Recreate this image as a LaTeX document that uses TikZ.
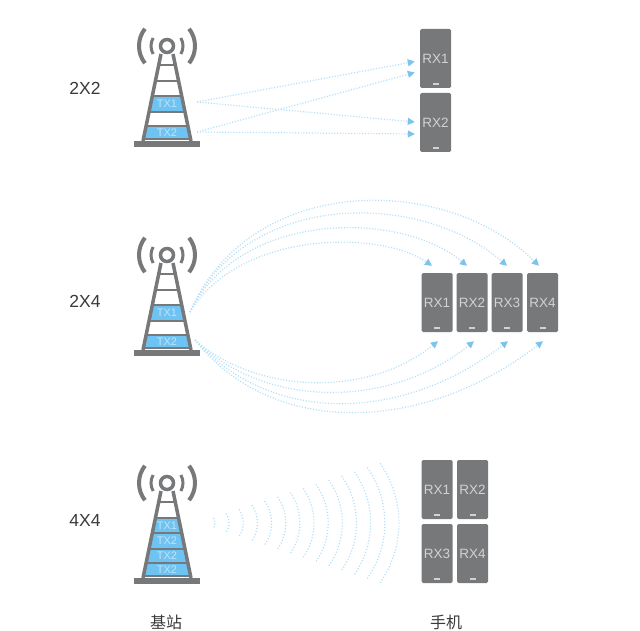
\documentclass[tikz,border=0pt]{standalone}
\usepackage{fontspec}
\usepackage{xcolor}
\usetikzlibrary{arrows.meta}
\setsansfont{Liberation Sans}
\newfontfamily\cjk{Noto Sans CJK SC}
\definecolor{Canvas}{HTML}{FFFFFF}
\definecolor{Ink}{HTML}{3A3A3A}
\definecolor{Steel}{HTML}{77787A}
\definecolor{Sky}{HTML}{6FC3F2}
\definecolor{Beam}{HTML}{B4E0F7}
\definecolor{TipBlue}{HTML}{7CC4EC}
\definecolor{TxText}{HTML}{BFE3F8}
\definecolor{RxText}{HTML}{D2D2D2}
\tikzset{
  mast/.style={draw=Steel,line width=3.5pt},
  beamline/.style={draw=Beam,line width=1.2pt,dash pattern=on 1.1pt off 1.7pt,
    -{Triangle[length=7pt,width=7pt,color=TipBlue]}},
  wavearc/.style={draw=Beam,line width=1.2pt,dash pattern=on 1.1pt off 1.9pt},
  phone/.style={rectangle,fill=Steel,rounded corners=1.5pt,minimum width=31pt,minimum height=59pt,
    inner sep=0pt,text=RxText,font=\sffamily\fontsize{13.5}{15}\selectfont},
  ratio/.style={font=\sffamily\fontsize{17.5}{19}\selectfont},
  caption/.style={font=\cjk\fontsize{16}{18}\selectfont},
  tower/.pic={
    \draw[mast] (0,0) circle (6.5);
    \draw[mast,line width=3pt] (150:16) arc (150:210:16);
    \draw[mast,line width=3pt] (30:16) arc (30:-30:16);
    \draw[mast,line width=4pt] (142:28) arc (142:218:28);
    \draw[mast,line width=4pt] (38:28) arc (38:-38:28);
    \draw[mast] (-6,8)--(-24,95) (6,8)--(24,95);
    \foreach \y in {19,35,50,66,80,93} \draw[mast,line width=2.5pt] ({-6-(\y-8)*0.207},\y)--({6+(\y-8)*0.207},\y);
    \fill[Steel] (-33,95) rectangle (33,101);
  }
}
\newcommand{\txband}[4]{%
  \fill[Sky] ({-6-(#1-8)*0.207},#1)--({6+(#1-8)*0.207},#1)--({6+(#2-8)*0.207},#2)--({-6-(#2-8)*0.207},#2)--cycle;
  \node[text=TxText,font=\sffamily\fontsize{11}{12}\selectfont] (#4) at (0,{(#1+#2)/2}) {#3};}

\begin{document}
\begin{tikzpicture}[x=1pt,y=-1pt,every node/.style={text=Ink}]
\useasboundingbox[fill=Canvas] (0,0) rectangle (640,631);
% first row
\node[ratio] (ratioa) at (85,88) {2X2};
\begin{scope}[shift={(167,46)}]
\txband{50}{66}{TX1}{txa1}\txband{80}{93}{TX2}{txa2}
\pic {tower};
\end{scope}
\node[phone] (rxa1) at (435.5,58.5) {RX1};
\node[phone] (rxa2) at (435.5,122.5) {RX2};
\coordinate (fromaa) at (197,102);
\coordinate (fromab) at (197,132);
\draw[beamline] (fromaa)--([shift={(-5,3)}]rxa1.west);
\draw[beamline] (fromab)--([shift={(-5,14)}]rxa1.west);
\draw[beamline] (fromaa)--([shift={(-5,-0.5)}]rxa2.west);
\draw[beamline] (fromab)--([shift={(-5,11.5)}]rxa2.west);
% second row
\node[ratio] (ratiob) at (85,301) {2X4};
\begin{scope}[shift={(167,255)}]
\txband{50}{66}{TX1}{txb1}\txband{80}{93}{TX2}{txb2}
\pic {tower};
\end{scope}
\node[phone] (rxb1) at (437,302.5) {RX1};
\node[phone] (rxb2) at (472,302.5) {RX2};
\node[phone] (rxb3) at (507,302.5) {RX3};
\node[phone] (rxb4) at (542.5,302.5) {RX4};
\coordinate (frombt) at (190,312);
\coordinate (frombb) at (195,340);
\draw[beamline] (frombt) .. controls (240,230) and (380,230) .. ([shift={(-5,-7)}]rxb1.north);
\draw[beamline] (frombt) .. controls (240,210) and (400,210) .. ([shift={(-5,-7)}]rxb2.north);
\draw[beamline] (frombt) .. controls (245,190) and (420,190) .. ([shift={(0,-7)}]rxb3.north);
\draw[beamline] (frombt) .. controls (250,173) and (445,173) .. ([shift={(-3.5,-7)}]rxb4.north);
\draw[beamline] (frombb) .. controls (260,396) and (370,396) .. ([shift={(1,9)}]rxb1.south);
\draw[beamline] (frombb) .. controls (265,409) and (390,409) .. ([shift={(2,9)}]rxb2.south);
\draw[beamline] (frombb) .. controls (270,424) and (400,424) .. ([shift={(1,9)}]rxb3.south);
\draw[beamline] (frombb) .. controls (270,436) and (420,436) .. ([shift={(0.5,9)}]rxb4.south);
% third row
\node[ratio] (ratioc) at (85,520) {4X4};
\begin{scope}[shift={(167,483)}]
\txband{35}{50}{TX1}{txc1}\txband{50}{66}{TX2}{txc2}\txband{66}{80}{TX2}{txc3}\txband{80}{93}{TX2}{txc4}
\pic {tower};
\end{scope}
\foreach \i in {0,...,13}
  \draw[wavearc] ({215+14.15*\i-(9+7.3*\i)},523) ++(-35:{9+7.3*\i}) arc (-35:35:{9+7.3*\i});
\node[phone] (rxc1) at (437,489.5) {RX1};
\node[phone] (rxc2) at (472.5,489.5) {RX2};
\node[phone] (rxc3) at (437,553.5) {RX3};
\node[phone] (rxc4) at (472.5,553.5) {RX4};
% home buttons
\foreach \p in {rxa1,rxa2,rxb1,rxb2,rxb3,rxb4,rxc1,rxc2,rxc3,rxc4}
  \fill[RxText] ([yshift=4pt]\p.south) ++(-3,-1) rectangle ++(6,2);
% captions
\node[caption] (capbase) at (166,622) {基站};
\node[caption] (capphone) at (446,622) {手机};
\end{tikzpicture}
\end{document}
